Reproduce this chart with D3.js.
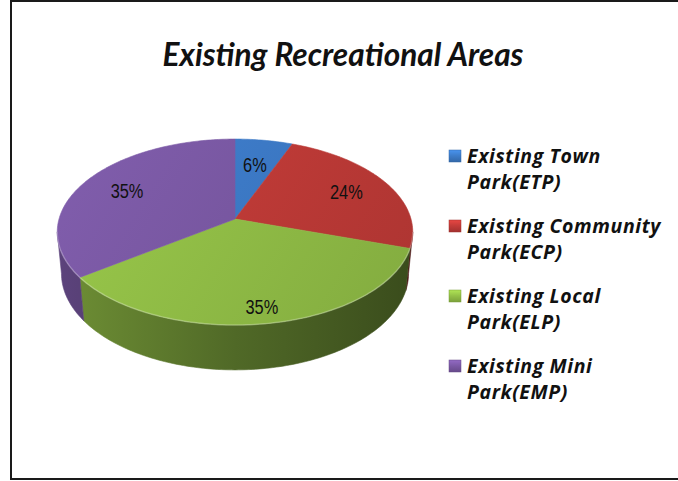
<!DOCTYPE html>
<html><head><meta charset="utf-8">
<script src="https://cdn.jsdelivr.net/npm/d3@7"></script>
<style>body{margin:0;background:#fff;overflow:hidden}</style>
</head><body>
<svg id="chart" width="678" height="481"></svg>
<script>
// ---------- data ----------
const title = "Existing Recreational Areas";
const categories = ["Existing Town Park(ETP)", "Existing Community Park(ECP)", "Existing Local Park(ELP)", "Existing Mini Park(EMP)"];
const legendLines = [["Existing Town", "Park(ETP)"], ["Existing Community", "Park(ECP)"], ["Existing Local", "Park(ELP)"], ["Existing Mini", "Park(EMP)"]];
const values = [6, 24, 35, 35];
const valueLabels = ["6%", "24%", "35%", "35%"];

// ---------- style / layout ----------
const colors = ["#3d7cc9", "#c23b38", "#93c047", "#7b59a5"];
const labelRadius = [0.66, 0.73, 0.86, 0.72];
const P = {cx: 235, cy: 219, S: 176, e: Math.asin(0.518), D: 6.1, h: 0.28};

const svg = d3.select("#chart");
const defs = svg.append("defs");

svg.append("rect").attr("x", 11).attr("y", 1).attr("width", 700).attr("height", 478)
  .attr("fill", "#fff").attr("stroke", "#1a1a1a").attr("stroke-width", 2);

// perspective projection of a point on the pie disc
function proj(u, v, y) {
  const ce = Math.cos(P.e), se = Math.sin(P.e);
  const yp = y * ce + v * se;
  const zp = v * ce - y * se;
  const ps = 1 / (1 + zp / P.D);
  return [P.cx + P.S * u * ps, P.cy - P.S * yp * ps];
}
function pt(theta, r, y) { return proj(r * Math.sin(theta), r * Math.cos(theta), y); }
function arcPts(a0, a1, y) {
  const n = Math.max(2, Math.ceil(Math.abs(a1 - a0) / (Math.PI / 180)));
  return d3.range(n + 1).map(i => pt(a0 + (a1 - a0) * i / n, 1, y));
}

// silhouettes of the side wall
function findExt(lo, hi, sign) {
  let best = lo, bv = -Infinity;
  for (let t = lo; t <= hi; t += 0.001) {
    const x = pt(t, 1, -P.h / 2)[0] * sign;
    if (x > bv) { bv = x; best = t; }
  }
  return best;
}
const silR = findExt(Math.PI / 3, 2 * Math.PI / 3, 1);
const silL = findExt(4 * Math.PI / 3, 5 * Math.PI / 3, -1);

const pie = d3.pie().sort(null).value(d => d).startAngle(0).endAngle(2 * Math.PI);
const arcs = pie(values);

// gradients
const x0 = pt(silL, 1, 0)[0], x1 = pt(silR, 1, 0)[0];
colors.forEach((c, i) => {
  const base = d3.color(c);
  const gw = defs.append("linearGradient").attr("id", "wall" + i)
    .attr("gradientUnits", "userSpaceOnUse").attr("x1", x0).attr("y1", 0).attr("x2", x1).attr("y2", 0);
  gw.append("stop").attr("offset", 0).attr("stop-color", base.darker(0.8));
  gw.append("stop").attr("offset", 0.5).attr("stop-color", base.darker(1.7));
  gw.append("stop").attr("offset", 1).attr("stop-color", base.darker(2.6));
  const gt = defs.append("linearGradient").attr("id", "top" + i)
    .attr("gradientUnits", "userSpaceOnUse").attr("x1", 80).attr("y1", 140).attr("x2", 380).attr("y2", 330);
  gt.append("stop").attr("offset", 0).attr("stop-color", base.brighter(0.12));
  gt.append("stop").attr("offset", 1).attr("stop-color", base.darker(0.3));
  const gl = defs.append("linearGradient").attr("id", "leg" + i)
    .attr("x1", 0).attr("y1", 0).attr("x2", 0).attr("y2", 1);
  gl.append("stop").attr("offset", 0).attr("stop-color", base.brighter(0.5));
  gl.append("stop").attr("offset", 0.5).attr("stop-color", base);
  gl.append("stop").attr("offset", 1).attr("stop-color", base.darker(0.5));
});

const line = d3.line();
const gPie = svg.append("g");

// walls (front half only)
arcs.forEach((a, i) => {
  const w0 = Math.max(a.startAngle, silR), w1 = Math.min(a.endAngle, silL);
  if (w1 <= w0) return;
  const pts = arcPts(w0, w1, 0).concat(arcPts(w1, w0, -P.h));
  gPie.append("path").attr("d", line(pts) + "Z")
    .attr("fill", `url(#wall${i})`).attr("stroke", `url(#wall${i})`).attr("stroke-width", 0.6);
});

// top faces
arcs.forEach((a, i) => {
  const pts = [proj(0, 0, 0)].concat(arcPts(a.startAngle, a.endAngle, 0));
  gPie.append("path").attr("d", line(pts) + "Z")
    .attr("fill", `url(#top${i})`).attr("stroke", `url(#top${i})`).attr("stroke-width", 0.6);
});

// subtle rim highlight along the front edge
gPie.append("path").attr("d", line(arcPts(silR, silL, 0)))
  .attr("fill", "none").attr("stroke", "#ffffff").attr("stroke-opacity", 0.25).attr("stroke-width", 1.5);

// data labels (condensed)
arcs.forEach((a, i) => {
  const mid = (a.startAngle + a.endAngle) / 2;
  const [lx, ly] = pt(mid, labelRadius[i], 0);
  gPie.append("g").attr("transform", `translate(${lx},${ly}) scale(0.78,1)`)
    .append("text").attr("x", 0).attr("y", 0).attr("dy", "0.36em")
    .attr("text-anchor", "middle")
    .style("font-family", "'Liberation Sans', Arial, sans-serif")
    .style("font-size", "21px").attr("fill", "#111")
    .text(valueLabels[i]);
});

// title
const tt = svg.append("text").attr("x", 343).attr("y", 66).attr("text-anchor", "middle")
  .style("font-family", "Lato, 'Open Sans', sans-serif").style("font-weight", "bold").style("font-style", "italic")
  .style("font-size", "30px").attr("fill", "#111").text(title);
{
  const w = tt.node().getComputedTextLength();
  tt.style("font-size", (30 * 361 / w) + "px");
}

// legend
const lg = svg.append("g");
const legTexts = [];
legendLines.forEach((lines, i) => {
  const y0 = 163 + i * 70;
  lg.append("rect").attr("x", 449).attr("y", y0 - 13).attr("width", 12).attr("height", 12)
    .attr("fill", `url(#leg${i})`).attr("stroke", d3.color(colors[i]).darker(0.6)).attr("stroke-width", 0.5);
  lines.forEach((s, j) => {
    legTexts.push(lg.append("text").attr("x", 467).attr("y", y0 + j * 26)
      .style("font-family", "'Open Sans', Lato, sans-serif").style("font-weight", "bold").style("font-style", "italic")
      .style("letter-spacing", "0.6px")
      .style("font-size", "18px").attr("fill", "#111").text(s));
  });
});
{
  const w = legTexts[2].node().getComputedTextLength();
  const fs = Math.min(18 * 200 / w, 19.5);
  legTexts.forEach(t => t.style("font-size", fs + "px"));
}
</script>
</body></html>
